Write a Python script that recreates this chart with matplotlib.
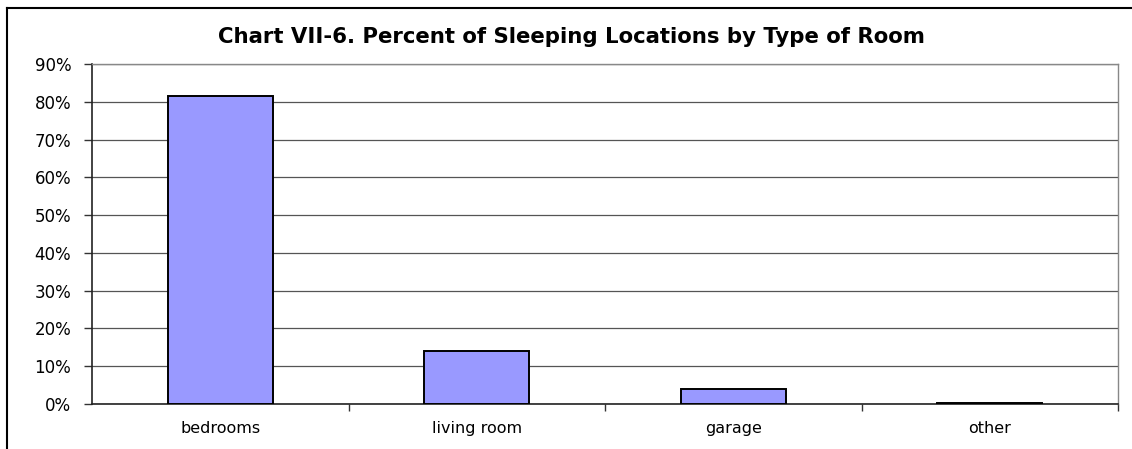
import matplotlib
matplotlib.use("Agg")
import matplotlib.pyplot as plt
from matplotlib.lines import Line2D
from matplotlib.ticker import FuncFormatter, FixedLocator

categories = ["bedrooms", "living room", "garage", "other"]
values = [81.5, 14.0, 4.1, 0.35]
yticks = [0, 10, 20, 30, 40, 50, 60, 70, 80, 90]
title = "Chart VII-6. Percent of Sleeping Locations by Type of Room"

plt.rcParams['font.family'] = ['DejaVu Sans']

W, H = 1132, 449
fig = plt.figure(figsize=(W / 100, H / 100), dpi=100)
ax = fig.add_axes([92 / W, (H - 404) / H, (1118 - 92) / W, (404 - 64) / H])

x = list(range(len(categories)))
ax.bar(x, values, width=0.41, color="#9999FF", edgecolor="black", linewidth=1.4, zorder=3)

ax.set_xlim(-0.5, len(categories) - 0.5)
ax.set_ylim(0, 90)
ax.set_yticks(yticks)
ax.yaxis.set_major_formatter(FuncFormatter(lambda v, p: f"{int(v)}%"))
ax.yaxis.grid(True, color="#555555", linewidth=0.9, zorder=0)
ax.set_xticks(x)
ax.set_xticklabels(categories, fontsize=11.5)
ax.tick_params(axis="x", length=0, pad=12)
ax.xaxis.set_minor_locator(FixedLocator([i + 0.5 for i in range(len(categories))]))
ax.tick_params(axis="x", which="minor", length=5, width=1, color="#333333")
ax.tick_params(axis="y", length=6, width=1, color="#333333", labelsize=12, pad=9)

for s in ["left", "bottom"]:
    ax.spines[s].set_color("#222222")
    ax.spines[s].set_linewidth(1.2)
for s in ["top", "right"]:
    ax.spines[s].set_color("#888888")
    ax.spines[s].set_linewidth(1.0)

fig.text(571 / W, 1 - 37 / H, title, ha="center", va="center", fontsize=15.3, fontweight="bold")

# outer chart frame
fig.add_artist(Line2D([7 / W, 7 / W], [0, 1 - 8 / H], transform=fig.transFigure, color="black", linewidth=1.5))
fig.add_artist(Line2D([7 / W, 1], [1 - 8 / H, 1 - 8 / H], transform=fig.transFigure, color="black", linewidth=1.5))

fig.savefig("out.png", dpi=100)
